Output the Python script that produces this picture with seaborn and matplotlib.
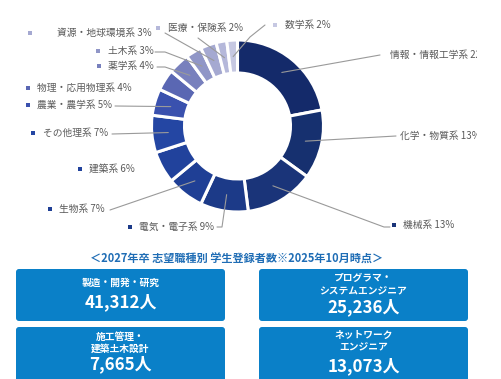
import matplotlib
matplotlib.use("Agg")
import matplotlib.pyplot as plt
import seaborn as sns
from matplotlib.patches import FancyBboxPatch
import numpy as np

# ---- data ----
categories = ["情報・情報工学系", "化学・物質系", "機械系", "電気・電子系", "生物系", "建築系",
              "その他理系", "農業・農学系", "物理・応用物理系", "薬学系", "土木系",
              "資源・地球環境系", "医療・保険系", "数学系"]
percents = [22, 13, 13, 9, 7, 6, 7, 5, 4, 4, 3, 3, 2, 2]
colors = ["#142a6a", "#16306f", "#1a3479", "#1c3a88", "#1f3f95", "#21429c", "#2446a3",
          "#3a51ae", "#5a67b3", "#7880bd", "#9096c7", "#a5a9d1", "#b5b8da", "#c6c8e2"]

title_text = "＜2027年卒 志望職種別 学生登録者数※2025年10月時点＞"
box_titles = [["製造・開発・研究"], ["プログラマ・", "システムエンジニア"],
              ["施工管理・", "建築土木設計"], ["ネットワーク", "エンジニア"]]
box_counts = ["41,312人", "25,236人", "7,665人", "13,073人"]

sns.set_theme(style="white")
plt.rcParams['font.family'] = ['Noto Sans CJK JP', 'DejaVu Sans']

W, H = 501, 379
fig = plt.figure(figsize=(W / 100, H / 100), dpi=100)
fig.patch.set_facecolor("white")
AXW = 477
ax = fig.add_axes([0, 0, AXW / W, 1])

def Y(py):
    return H - py

cx, cy, R = 237.5, 126, 86
ring_w = 33
wedges, _ = ax.pie(percents, colors=colors, startangle=90, counterclock=False,
                   center=(cx, Y(cy)), radius=R, frame=True,
                   wedgeprops=dict(width=ring_w, edgecolor="white", linewidth=2.2))
ax.set_xlim(0, AXW)
ax.set_ylim(0, H)
ax.axis("off")

# label layout: (marker x or None, text x, text y, line points after ring point)
layout = [
    (None, 390, 55, [(380, 55)]),
    (None, 400, 136, [(396, 136)]),
    (394, 403, 225, [(384, 227), (390, 227)]),
    (130, 139, 227, [(222, 227), (217, 227)]),
    (50, 59, 209, [(110, 210)]),
    (80, 89, 169, None),
    (33, 43, 133, [(112, 134)]),
    (28, 37, 105, [(115, 106)]),
    (28, 37, 88, None),
    (99, 108, 66, [(165, 67), (157, 67)]),
    (98, 108, 51, [(165, 52), (155, 52)]),
    (30, 57, 33, [(165, 33)]),
    (158, 168, 28, [(198, 38)]),
    (275, 285, 25, [(250, 37), (265, 25)]),
]

cum = 0
mid_r = R - ring_w / 2
for i, (name, p) in enumerate(zip(categories, percents)):
    mid = cum + p / 2
    cum += p
    ang = np.deg2rad(90 - mid / 100 * 360)
    sx, sy = cx + mid_r * np.cos(ang), Y(cy) + mid_r * np.sin(ang)
    mx, tx, ty, pts = layout[i]
    if pts:
        xs = [sx] + [q[0] for q in pts]
        ys = [sy] + [Y(q[1]) for q in pts]
        ax.plot(xs, ys, color="#9a9a9a", lw=0.8, zorder=3)
    if mx is not None:
        ax.scatter([mx], [Y(ty)], marker="s", s=5, color=colors[i], zorder=4, linewidths=0)
    ax.text(tx, Y(ty), f"{name} {p}%", fontsize=7, color="#5a5a5a",
            ha="left", va="center", clip_on=True)

# title
ax.text(237, Y(259), title_text, fontsize=8.0, fontweight="bold", color="#1f6db5",
        ha="center", va="center")

# boxes
box_color = "#0a80c8"
boxes = [(16, 269, 209, 52), (259, 269, 209, 52), (16, 327, 209, 60), (259, 327, 209, 60)]
title_ys = [[283], [278, 291], [337, 349], [335, 347]]
count_ys = [302, 307, 364, 366]
for (bx, by, bw, bh), tl, tys, cnt, cyy in zip(boxes, box_titles, title_ys, box_counts, count_ys):
    patch = FancyBboxPatch((bx + 3, Y(by + bh) + 3), bw - 6, bh - 6,
                           boxstyle="round,pad=3,rounding_size=3",
                           facecolor=box_color, edgecolor="none", zorder=2, clip_on=False)
    ax.add_patch(patch)
    cxb = bx + bw / 2
    for t, yy in zip(tl, tys):
        ax.text(cxb, Y(yy), t, fontsize=7, fontweight="bold", color="white",
                ha="center", va="center", zorder=3)
    ax.text(cxb, Y(cyy), cnt, fontsize=12.2, fontweight="bold", color="white",
            ha="center", va="center", zorder=3)

fig.savefig("out.png", dpi=100, facecolor="white")
